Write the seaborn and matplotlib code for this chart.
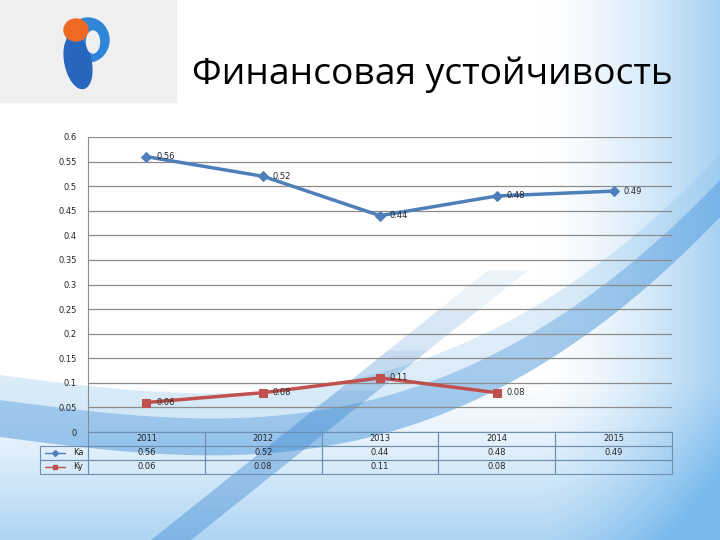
import numpy as np
import pandas as pd
import matplotlib.pyplot as plt
import seaborn as sns
from matplotlib.lines import Line2D
from matplotlib.patches import Rectangle, Ellipse

# data
years = ['2011', '2012', '2013', '2014', '2015']
ka = [0.56, 0.52, 0.44, 0.48, 0.49]
ky = [0.06, 0.08, 0.11, 0.08, np.nan]
yticks = [0, 0.05, 0.1, 0.15, 0.2, 0.25, 0.3, 0.35, 0.4, 0.45, 0.5, 0.55, 0.6]

sns.set_style("white")
plt.rcParams['font.family'] = ['DejaVu Sans']

blue = '#4f7fb8'
red = '#c0504d'

fig = plt.figure(figsize=(7.2, 5.4), dpi=100)

# background of the slide
bg = fig.add_axes([0, 0, 1, 1], zorder=-5)
bg.set_xlim(0, 720)
bg.set_ylim(540, 0)
bg.axis('off')
xx, yy = np.meshgrid(np.linspace(0, 1, 360), np.linspace(0, 1, 270))
t = np.clip((xx - 0.75) / 0.25, 0, 1) ** 1.5 * 0.6 + np.clip((yy - 0.7) / 0.3, 0, 1) ** 1.2 * 0.55
t = np.clip(t, 0, 0.9)
base = np.array([1.0, 1.0, 1.0])
tint = np.array([0.42, 0.70, 0.92])
img = base[None, None, :] * (1 - t[..., None]) + tint[None, None, :] * t[..., None]
bg.imshow(img, extent=[0, 720, 540, 0], aspect='auto', zorder=0)
bx = np.linspace(0, 720, 200)
center = 415 + 30 * np.sin(bx / 720 * np.pi) - 220 * (bx / 720) ** 3
bg.fill_between(bx, center - 15, center + 22, color='#4a97dc', alpha=0.5, lw=0, zorder=1)
bg.fill_between(bx, center - 40, center - 15, color='#8cc3ec', alpha=0.3, lw=0, zorder=1)
# diagonal sweep, fading out upwards
for k, a in enumerate([0.4, 0.3, 0.2, 0.1]):
    dy = np.linspace(390 - 40 * k, 540 if k == 0 else 390 - 40 * (k - 1), 30)
    left = 150 + (540 - dy) / 0.8
    bg.fill_betweenx(dy, left, left + 40, color='#3a86d0', alpha=a, lw=0, zorder=1)

# logo box
bg.add_patch(Rectangle((0, 0), 176, 102, color='#efefef', zorder=2))
bg.add_patch(Ellipse((88, 40), 42, 44, color='#2f86d8', zorder=3))
bg.add_patch(Ellipse((78, 62), 26, 54, angle=-12, color='#2766bd', zorder=3))
bg.add_patch(Ellipse((76, 30), 24, 22, color='#ee6a22', zorder=4))
bg.add_patch(Ellipse((93, 42), 13, 22, color='#efefef', zorder=5))

fig.text(0.6, 0.861, 'Финансовая устойчивость', ha='center', va='center',
         fontsize=26.8, family=['Open Sans', 'DejaVu Sans'], color='#000000')

# chart
ax = fig.add_axes([88 / 720, 1 - 432 / 540, 584 / 720, 295 / 540])
ax.patch.set_alpha(0)
idx = list(range(len(years)))
sns.lineplot(x=idx, y=ka, ax=ax, color=blue, lw=2.5, marker='D', markersize=5,
             markeredgecolor=blue)
sns.lineplot(x=idx, y=ky, ax=ax, color=red, lw=2.5, marker='s', markersize=6,
             markeredgecolor=red)
for i, v in enumerate(ka):
    ax.annotate(f'{v:g}', (i, v), xytext=(7, 0), textcoords='offset points',
                va='center', fontsize=6)
for i, v in enumerate(ky):
    if not np.isnan(v):
        ax.annotate(f'{v:g}', (i, v), xytext=(7, 0), textcoords='offset points',
                    va='center', fontsize=6)

ax.set_xlim(-0.5, 4.5)
ax.set_ylim(0, 0.6)
ax.set_yticks(yticks)
ax.set_yticklabels([f'{v:g}' for v in yticks], fontsize=6)
ax.set_xticks([])
ax.tick_params(axis='y', length=0, pad=8)
ax.grid(axis='y', color='#8c8c8c', lw=0.9)
for s in ['top', 'right', 'bottom']:
    ax.spines[s].set_visible(False)
ax.spines['left'].set_color('#8c8c8c')

# data table under the axis
cells = [[f'{v:g}' for v in ka], [('' if np.isnan(v) else f'{v:g}') for v in ky]]
tab = ax.table(cellText=cells, colLabels=years, cellLoc='center',
               bbox=[0, -0.142, 1, 0.142])
tab.auto_set_font_size(False)
tab.set_fontsize(6)
for c in tab.get_celld().values():
    c.set_edgecolor('#6f8fb0')
    c.set_facecolor('none')
    c.set_linewidth(0.8)
rl = ax.table(cellText=[['Ka'], ['Ky']], cellLoc='right',
              bbox=[-48 / 584, -0.142, 48 / 584, 0.095])
rl.auto_set_font_size(False)
rl.set_fontsize(6)
for c in rl.get_celld().values():
    c.set_edgecolor('#6f8fb0')
    c.set_facecolor('none')
    c.set_linewidth(0.8)
for yrow, col, mk in [(-0.0712, blue, 'D'), (-0.118, red, 's')]:
    ax.add_line(Line2D([-0.074, -0.04], [yrow, yrow], transform=ax.transAxes,
                       color=col, lw=1, clip_on=False))
    ax.add_line(Line2D([-0.057], [yrow], transform=ax.transAxes, color=col,
                       marker=mk, markersize=3, clip_on=False))

fig.savefig('out.png', dpi=100)
